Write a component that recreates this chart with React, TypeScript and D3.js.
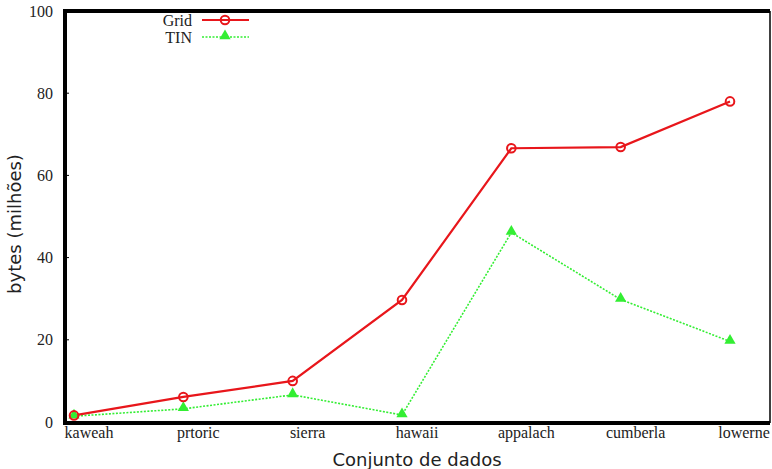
import React from "react";
import * as d3 from "d3";

const categories = ["kaweah", "prtoric", "sierra", "hawaii", "appalach", "cumberla", "lowerne"];
const gridValues = [1.6, 6.1, 10.0, 29.7, 66.6, 66.9, 78.0];
const tinValues = [1.4, 3.2, 6.6, 1.7, 46.1, 29.8, 19.6];
const yTicks = [0, 20, 40, 60, 80, 100];

const W = 772;
const H = 469;
const left = 65;
const right = 770;
const top = 11;
const bottom = 423;

export default function App() {
  const x = d3.scaleLinear().domain([0, categories.length - 1]).range([74, 730]);
  const y = d3.scaleLinear().domain([0, 100]).range([422, 11]);
  const line = d3
    .line<number>()
    .x((_, i) => x(i))
    .y((d) => y(d));
  const tri = d3.symbol().type(d3.symbolTriangle).size(55)();
  const red = "#e8161b";
  const green = "#33ee33";
  return (
    <svg width={W} height={H} style={{ position: "absolute", left: 0, top: 0 }}>
      <rect x={0} y={0} width={W} height={H} fill="white" />
      {/* frame */}
      <line x1={left} x2={left} y1={top - 2} y2={bottom + 2} stroke="black" strokeWidth={4} />
      <line x1={left - 2} x2={right} y1={bottom} y2={bottom} stroke="black" strokeWidth={4} />
      <line x1={left - 2} x2={right} y1={top} y2={top} stroke="black" strokeWidth={4} />
      <line x1={right} x2={right} y1={top} y2={bottom} stroke="black" strokeWidth={1.5} />
      {/* y ticks */}
      {yTicks.map((t) => (
        <g key={t}>
          <line x1={left} x2={left + 4} y1={y(t)} y2={y(t)} stroke="black" strokeWidth={1} />
          <text
            x={53}
            y={y(t)}
            dy="0.35em"
            textAnchor="end"
            fontFamily="Liberation Serif"
            fontSize={16}
            fill="#222"
          >
            {t}
          </text>
        </g>
      ))}
      {/* x labels */}
      {categories.map((c, i) => (
        <text
          key={c}
          x={x(i) + (i === categories.length - 1 ? 14 : 15)}
          y={438}
          textAnchor="middle"
          fontFamily="Liberation Serif"
          fontSize={16}
          fill="#222"
        >
          {c}
        </text>
      ))}
      {/* axis titles */}
      <text
        x={417}
        y={466}
        textAnchor="middle"
        fontFamily="DejaVu Sans"
        fontSize={18}
        fill="#222"
      >
        Conjunto de dados
      </text>
      <text
        transform={`translate(21,224) rotate(-90)`}
        textAnchor="middle"
        fontFamily="DejaVu Sans"
        fontSize={18}
        fill="#222"
      >
        bytes (milhões)
      </text>
      {/* series */}
      <path d={line(tinValues) || ""} fill="none" stroke={green} strokeWidth={1.6} strokeDasharray="2,1.5" />
      <path d={line(gridValues) || ""} fill="none" stroke={red} strokeWidth={2.2} />
      {tinValues.map((v, i) => (
        <path key={"t" + i} d={tri || ""} transform={`translate(${x(i)},${y(v) - 1})`} fill={green} />
      ))}
      {gridValues.map((v, i) => (
        <circle key={"g" + i} cx={x(i)} cy={y(v)} r={4.3} fill="none" stroke={red} strokeWidth={2} />
      ))}
      {/* legend */}
      <text x={192} y={20} dy="0.35em" textAnchor="end" fontFamily="Liberation Serif" fontSize={16} fill="#222">
        Grid
      </text>
      <line x1={202} x2={249} y1={20} y2={20} stroke={red} strokeWidth={2.2} />
      <circle cx={225} cy={20} r={4.3} fill="none" stroke={red} strokeWidth={2} />
      <text x={192} y={37} dy="0.35em" textAnchor="end" fontFamily="Liberation Serif" fontSize={16} fill="#222">
        TIN
      </text>
      <line x1={202} x2={249} y1={37} y2={37} stroke={green} strokeWidth={1.6} strokeDasharray="2,1.5" />
      <path d={tri || ""} transform={`translate(225,36)`} fill={green} />
    </svg>
  );
}
